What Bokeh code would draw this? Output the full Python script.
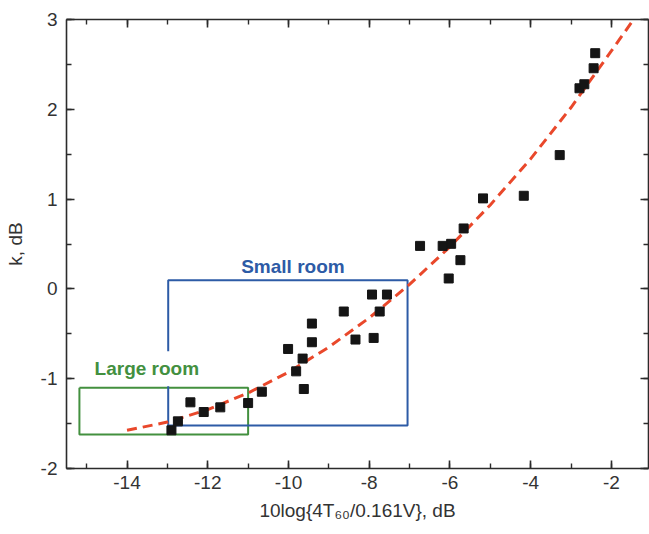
from bokeh.plotting import figure
from bokeh.models import (Range1d, LinearAxis, SingleIntervalTicker, PrintfTickFormatter)
from bokeh.core.properties import value
from bokeh.embed import file_html
from bokeh.resources import INLINE

# measured data points
pts_x = [-12.90, -12.74, -12.43, -12.10, -11.69, -11.00, -10.66, -10.01, -9.81, -9.65,
         -9.62, -9.42, -9.42, -8.63, -8.34, -7.93, -7.89, -7.74, -7.56, -6.74,
         -6.18, -6.03, -5.97, -5.74, -5.66, -5.18, -4.17, -3.28, -2.79, -2.67,
         -2.44, -2.40]
pts_y = [-1.575, -1.475, -1.263, -1.371, -1.319, -1.271, -1.145, -0.669, -0.918, -0.776,
         -1.115, -0.386, -0.594, -0.252, -0.564, -0.063, -0.546, -0.252, -0.063, 0.479,
         0.479, 0.116, 0.502, 0.320, 0.673, 1.008, 1.037, 1.490, 2.234, 2.279,
         2.457, 2.625]

# dashed fit curve
fit_x = [-14, -13, -12, -11, -10, -9, -8, -7, -6, -5, -4, -3, -2, -1.45]
fit_y = [-1.575, -1.483, -1.344, -1.159, -0.927, -0.648, -0.323, 0.050, 0.469, 0.935,
         1.448, 2.02, 2.65, 3.0]

# room boxes
small_left, small_right, small_top, small_bottom = -12.98, -7.05, 0.095, -1.52
small_gap_top, small_gap_bottom = -0.695, -1.085
large_left, large_right, large_top, large_bottom = -15.18, -11.0, -1.10, -1.62

small_label = "Small room"
large_label = "Large room"
x_title = "10log{4T\u2086\u2080/0.161V}, dB"
y_title = "k, dB"

FONT = "Liberation Sans"
AX = "#2b2b2b"
TXT = "#333333"
BLUE = "#2d5ba6"
GREEN = "#43903f"
RED = "#e9482b"

p = figure(width=649, height=534, output_backend="svg", toolbar_location=None,
           x_range=Range1d(-15.5, -1.08), y_range=Range1d(-2, 3),
           min_border_left=66, min_border_right=1, min_border_top=19,
           min_border_bottom=66, x_axis_location=None, y_axis_location=None)
p.grid.visible = False
p.outline_line_color = None
p.background_fill_color = "white"
p.border_fill_color = "white"

def make_axis(interval, show_labels):
    ax = LinearAxis(ticker=SingleIntervalTicker(interval=interval, num_minor_ticks=2))
    ax.axis_line_color = AX
    ax.axis_line_width = 1.6
    ax.major_tick_line_color = AX
    ax.minor_tick_line_color = AX
    ax.major_tick_line_width = 1.6
    ax.minor_tick_line_width = 1.4
    ax.major_tick_in = 8
    ax.major_tick_out = 0
    ax.minor_tick_in = 5
    ax.minor_tick_out = 0
    if show_labels:
        ax.formatter = PrintfTickFormatter(format="%d")
        ax.major_label_text_font = FONT
        ax.major_label_text_font_size = "19px"
        ax.major_label_text_color = TXT
        ax.axis_label_text_font = FONT
        ax.axis_label_text_font_size = "19px"
        ax.axis_label_text_font_style = "normal"
        ax.axis_label_text_color = TXT
    else:
        ax.major_label_text_font_size = "0px"
        ax.major_label_standoff = 0
        ax.major_label_text_alpha = 0
    return ax

xb = make_axis(2, True)
xb.major_label_standoff = 7
xb.axis_label = x_title
xb.axis_label_standoff = 8
p.add_layout(xb, "below")
yl = make_axis(1, True)
yl.major_label_standoff = 9
yl.axis_label = y_title
yl.axis_label_standoff = 12
p.add_layout(yl, "left")
p.add_layout(make_axis(2, False), "above")
p.add_layout(make_axis(1, False), "right")

# boxes
p.line([large_left, large_right, large_right, large_left, large_left],
       [large_top, large_top, large_bottom, large_bottom, large_top],
       line_color=GREEN, line_width=2)
p.line([small_left, small_left, small_right, small_right, small_left, small_left],
       [small_gap_top, small_top, small_top, small_bottom, small_bottom, small_gap_bottom],
       line_color=BLUE, line_width=2)

p.line(fit_x, fit_y, line_color=RED, line_width=3, line_dash="10 6")
p.scatter(pts_x, pts_y, marker="square", size=9, fill_color="#151515", line_color="#151515")

p.text(x=[-9.89], y=[0.245], text=[small_label], text_font=value(FONT),
       text_font_size="19px", text_font_style="bold", text_color=BLUE,
       text_align="center", text_baseline="middle")
p.text(x=[-13.51], y=[-0.89], text=[large_label], text_font=value(FONT),
       text_font_size="19px", text_font_style="bold", text_color=GREEN,
       text_align="center", text_baseline="middle")

open("out.html", "w").write(file_html(p, INLINE))
